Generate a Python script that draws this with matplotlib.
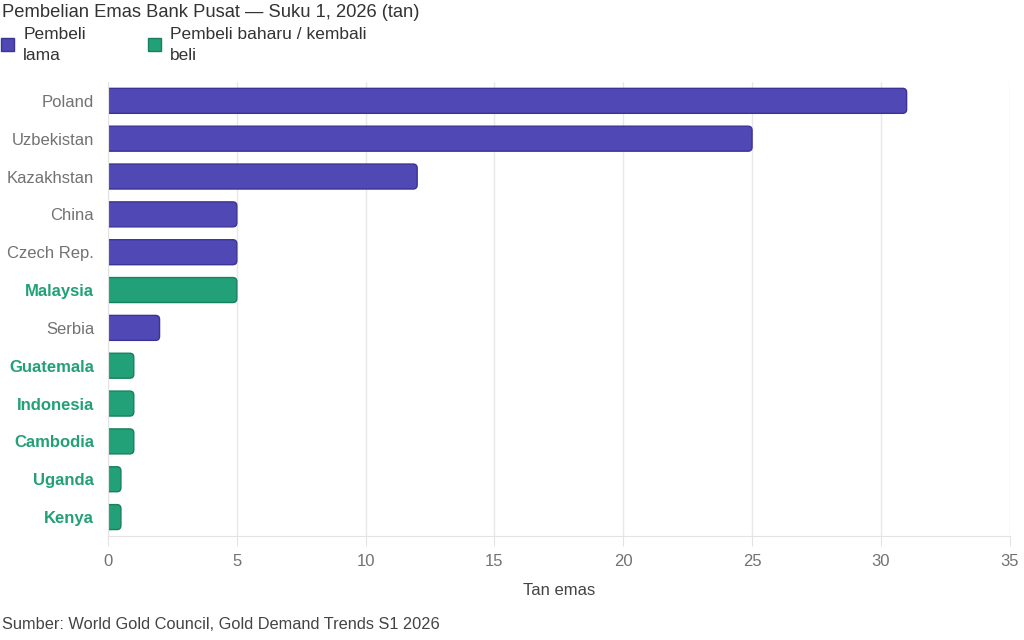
import matplotlib
matplotlib.use("Agg")
import matplotlib.pyplot as plt
from matplotlib.patches import Patch, FancyBboxPatch

plt.rcParams["font.family"] = ["Liberation Sans", "DejaVu Sans"]

countries = ["Poland", "Uzbekistan", "Kazakhstan", "China", "Czech Rep.", "Malaysia",
             "Serbia", "Guatemala", "Indonesia", "Cambodia", "Uganda", "Kenya"]
tonnes = [31, 25, 12, 5, 5, 5, 2, 1, 1, 1, 0.5, 0.5]
is_new = [False, False, False, False, False, True, False, True, True, True, True, True]
x_ticks = [0, 5, 10, 15, 20, 25, 30, 35]

purple = "#5048b5"
purple_edge = "#3b3396"
green = "#22a077"
green_edge = "#17805e"
gray_text = "#727270"

fig = plt.figure(figsize=(10.24, 6.4), dpi=100)
ax = fig.add_axes([0.1055, 0.1625, 0.8805, 0.7095])

ypos = list(range(len(countries)))
colors = [green if n else purple for n in is_new]
edges = [green_edge if n else purple_edge for n in is_new]
bars = ax.barh(ypos, tonnes, height=0.66, color=colors, edgecolor=edges, linewidth=1, zorder=3)

ax.set_ylim(len(countries) - 0.5, -0.5)
ax.set_xlim(0, 35)

# swap the plain rectangles for rounded ones (square left end hidden by clipping)
fig.canvas.draw()
bb = ax.get_window_extent()
x_per_px = 35 / bb.width
y_per_px = len(countries) / bb.height
r = 4 * x_per_px
for b, fc, ec in zip(bars, colors, edges):
    x, y, w, h = b.get_x(), b.get_y(), b.get_width(), b.get_height()
    b.set_visible(False)
    p = FancyBboxPatch((x - r, y), w + r, h, boxstyle=f"round,pad=0,rounding_size={r}",
                       mutation_aspect=y_per_px / x_per_px, facecolor=fc, edgecolor=ec,
                       linewidth=1, zorder=3)
    ax.add_patch(p)

ax.set_xticks(x_ticks)
ax.set_yticks(ypos)
ax.set_yticklabels(countries)
for lbl, n in zip(ax.get_yticklabels(), is_new):
    if n:
        lbl.set_color(green)
        lbl.set_fontweight("bold")
    else:
        lbl.set_color(gray_text)

ax.tick_params(axis="y", length=0, pad=10, labelsize=12)
ax.tick_params(axis="x", length=7, color="#e3e3e3", labelcolor=gray_text, labelsize=12, pad=6)
ax.grid(axis="x", color="#e8e8e8", linewidth=1, zorder=0)
for s in ["top", "right"]:
    ax.spines[s].set_visible(False)
ax.spines["left"].set_color("#e3e3e3")
ax.spines["left"].set_zorder(4)
ax.spines["bottom"].set_color("#e3e3e3")
ax.set_xlabel("Tan emas", fontsize=12, color="#444444", labelpad=10)

fig.text(0.002, 0.993, "Pembelian Emas Bank Pusat \u2014 Suku 1, 2026 (tan)",
         fontsize=13.2, color="#333333", va="top", ha="left")
handles = [Patch(facecolor=purple, edgecolor=purple_edge),
           Patch(facecolor=green, edgecolor=green_edge)]
leg = fig.legend(handles, ["Pembeli\nlama", "Pembeli baharu / kembali\nbeli"],
                 loc="upper left", bbox_to_anchor=(-0.0145, 0.982), ncol=2, frameon=False,
                 fontsize=12.5, handlelength=0.75, handleheight=0.75, handletextpad=0.55,
                 columnspacing=3.55, labelcolor="#333333")
for t in leg.get_texts():
    t.set_linespacing(1.45)
fig.text(0.002, 0.012, "Sumber: World Gold Council, Gold Demand Trends S1 2026",
         fontsize=11.8, color="#444444", ha="left", va="bottom")

fig.savefig("out.png", dpi=100)
